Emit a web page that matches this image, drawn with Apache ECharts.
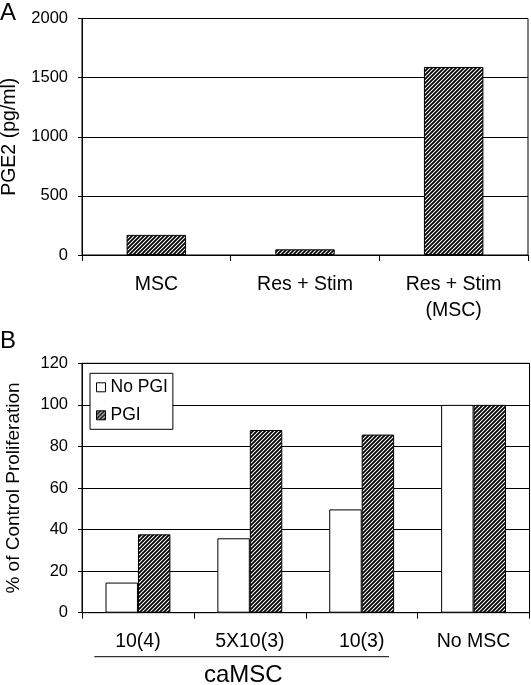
<!DOCTYPE html>
<html>
<head>
<meta charset="utf-8">
<script src="https://cdn.jsdelivr.net/npm/echarts@6/dist/echarts.min.js"></script>
<style>
html,body{margin:0;padding:0;background:#fff;}
#main{width:531px;height:685px;}
</style>
</head>
<body>
<div id="main"></div>
<script>
// ---- Data ----
const categoriesA = ['MSC', 'Res + Stim', 'Res + Stim\n(MSC)'];
const pge2Values = [170, 48, 1590];
const categoriesB = ['10(4)', '5X10(3)', '10(3)', 'No MSC'];
const noPgiValues = [14.5, 35.8, 49.7, 100];
const pgiValues = [37.7, 87.9, 85.7, 100];
const seriesNamesB = ['No PGI', 'PGI'];

const FONT = 'Liberation Sans, Arial, sans-serif';

function makeHatch() {
  const c = document.createElement('canvas');
  c.width = 4; c.height = 4;
  const g = c.getContext('2d');
  g.fillStyle = '#fff';
  g.fillRect(0, 0, 4, 4);
  g.strokeStyle = '#000';
  g.lineWidth = 1.8;
  g.beginPath();
  g.moveTo(-1, 1); g.lineTo(1, -1);
  g.moveTo(0, 4); g.lineTo(4, 0);
  g.moveTo(3, 5); g.lineTo(5, 3);
  g.stroke();
  return c;
}
const hatch = { image: makeHatch(), repeat: 'repeat' };

const chart = echarts.init(document.getElementById('main'), null, { renderer: 'canvas' });

const axisLineStyle = { lineStyle: { color: '#000', width: 1 } };
const plainNum = v => String(v);

const option = {
  animation: false,
  backgroundColor: '#fff',
  textStyle: { fontFamily: FONT, color: '#000' },
  grid: [
    { left: 82, right: 3, top: 18.5, height: 236.5, containLabel: false, outerBoundsMode: 'none', show: true, borderColor: '#000', borderWidth: 1, backgroundColor: 'transparent' },
    { left: 82, right: 1.5, top: 363.3, height: 249.4, containLabel: false, outerBoundsMode: 'none', show: true, borderColor: '#000', borderWidth: 1, backgroundColor: 'transparent' }
  ],
  legend: {
    data: seriesNamesB,
    orient: 'vertical',
    left: 90,
    top: 373.3,
    padding: [5, 5, 5, 6],
    itemGap: 10,
    itemWidth: 9,
    itemHeight: 9,
    icon: 'rect',
    borderColor: '#000',
    borderWidth: 1,
    backgroundColor: '#fff',
    itemStyle: { borderColor: '#000', borderWidth: 1 },
    textStyle: { fontSize: 17.5, fontFamily: FONT, color: '#000', padding: [0, 2, 0, 0] }
  },
  xAxis: [
    {
      type: 'category', gridIndex: 0, data: categoriesA,
      axisLine: axisLineStyle,
      axisTick: { show: true, length: 6, alignWithLabel: false, lineStyle: { color: '#000' } },
      axisLabel: { fontSize: 19.5, color: '#000', fontFamily: FONT, margin: 17, lineHeight: 26, interval: 0 }
    },
    {
      type: 'category', gridIndex: 1, data: categoriesB,
      axisLine: axisLineStyle,
      axisTick: { show: true, length: 6, alignWithLabel: false, lineStyle: { color: '#000' } },
      axisLabel: { fontSize: 19.5, color: '#000', fontFamily: FONT, margin: 16, lineHeight: 26, interval: 0 }
    }
  ],
  yAxis: [
    {
      type: 'value', gridIndex: 0, min: 0, max: 2000, interval: 500,
      name: 'PGE2 (pg/ml)', nameLocation: 'middle', nameRotate: 90, nameGap: 62,
      nameTextStyle: { fontSize: 19.5, color: '#000', fontFamily: FONT },
      axisLine: { show: true, lineStyle: { color: '#000' } },
      axisTick: { show: true, length: 4, lineStyle: { color: '#000' } },
      axisLabel: { fontSize: 16.5, color: '#000', fontFamily: FONT, margin: 14, formatter: plainNum },
      splitLine: { show: true, lineStyle: { color: '#000', width: 1 } }
    },
    {
      type: 'value', gridIndex: 1, min: 0, max: 120, interval: 20,
      name: '% of Control Proliferation', nameLocation: 'middle', nameRotate: 90, nameGap: 59,
      nameTextStyle: { fontSize: 19, color: '#000', fontFamily: FONT },
      axisLine: { show: true, lineStyle: { color: '#000' } },
      axisTick: { show: true, length: 4, lineStyle: { color: '#000' } },
      axisLabel: { fontSize: 16.5, color: '#000', fontFamily: FONT, margin: 14, formatter: plainNum },
      splitLine: { show: true, lineStyle: { color: '#000', width: 1 } }
    }
  ],
  series: [
    {
      name: 'PGE2', type: 'bar', xAxisIndex: 0, yAxisIndex: 0, data: pge2Values,
      barCategoryGap: '60%',
      itemStyle: { color: hatch, borderColor: '#000', borderWidth: 1 }
    },
    {
      name: seriesNamesB[0], type: 'bar', xAxisIndex: 1, yAxisIndex: 1, data: noPgiValues,
      barGap: '0%', barCategoryGap: '42%',
      itemStyle: { color: '#fff', borderColor: '#000', borderWidth: 1 }
    },
    {
      name: seriesNamesB[1], type: 'bar', xAxisIndex: 1, yAxisIndex: 1, data: pgiValues,
      barGap: '0%', barCategoryGap: '42%',
      itemStyle: { color: hatch, borderColor: '#000', borderWidth: 1 }
    }
  ],
  graphic: [
    { type: 'text', left: 0, top: 1, style: { text: 'A', font: '24px ' + FONT, fill: '#000' } },
    { type: 'text', left: 0, top: 329, style: { text: 'B', font: '24px ' + FONT, fill: '#000' } },
    { type: 'line', shape: { x1: 94.3, y1: 656.7, x2: 389, y2: 656.7 }, style: { stroke: '#000', lineWidth: 1 } },
    { type: 'text', left: 204, top: 663, style: { text: 'caMSC', font: '24px ' + FONT, fill: '#000' } }
  ]
};
chart.setOption(option);
</script>
</body>
</html>
